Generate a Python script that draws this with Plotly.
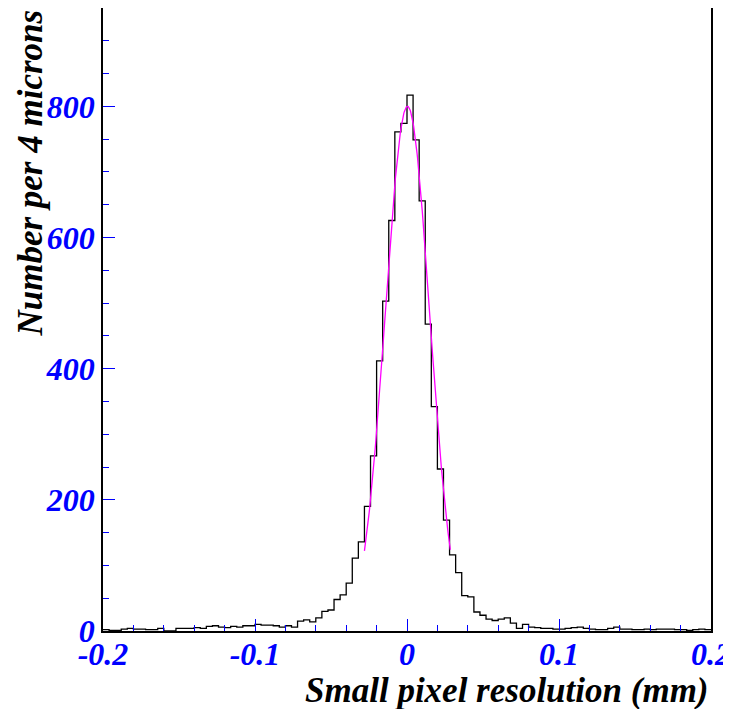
import numpy as np
import plotly.graph_objects as go

# Histogram: 100 bins of 4 microns from -0.2 to 0.2 mm
bin_start = -0.2
bin_width = 0.004
counts = [2, 1, 1, 3, 4, 3, 3, 2, 2, 4,
          0, 0, 4, 4, 4, 5, 4, 7, 8, 6,
          5, 7, 6, 8, 8, 10, 9, 9, 8, 6,
          8, 6, 15, 17, 14, 20, 30, 32, 48, 55,
          73, 111, 136, 190, 267, 412, 503, 626, 761, 774,
          817, 749, 656, 468, 342, 247, 169, 116, 89, 54,
          52, 29, 24, 18, 16, 18, 20, 12, 4, 10,
          6, 5, 4, 4, 3, 3, 4, 5, 6, 4,
          3, 2, 2, 4, 6, 3, 3, 2, 2, 3,
          2, 3, 3, 3, 2, 2, 1, 2, 3, 2]

# Gaussian fit parameters
fit_amp = 800.0
fit_mean = 0.0003
fit_sigma = 0.0146
fit_lo, fit_hi = -0.028, 0.0285

x_ticks = [-0.2, -0.1, 0, 0.1, 0.2]
x_ticklabels = ["-0.2", "-0.1", "0", "0.1", "0.2"]
y_ticks = [0, 200, 400, 600, 800]
y_ticklabels = ["0", "200", "400", "600", "800"]

edges = bin_start + bin_width * np.arange(len(counts) + 1)
step_y = list(counts) + [counts[-1]]

fx = np.linspace(fit_lo, fit_hi, 200)
fy = fit_amp * np.exp(-0.5 * ((fx - fit_mean) / fit_sigma) ** 2)

FONT = "Liberation Serif"

fig = go.Figure()
fig.add_trace(go.Scatter(x=edges, y=step_y, mode="lines", line_shape="hv",
                         line=dict(color="black", width=1.3), hoverinfo="skip"))
fig.add_trace(go.Scatter(x=fx, y=fy, mode="lines",
                         line=dict(color="#ff00ff", width=1.3), hoverinfo="skip"))

tickfont = dict(family=FONT, size=32, color="blue", weight="bold", style="italic")
titlefont = dict(family=FONT, size=35, color="black", weight="bold", style="italic")

# page body has an 8px margin; the figure is offset by it
fig.update_layout(
    width=723, height=701,
    margin=dict(l=95, r=20, t=0, b=78),
    paper_bgcolor="white", plot_bgcolor="white",
    showlegend=False,
    xaxis=dict(range=[-0.2, 0.2], tickvals=x_ticks, ticktext=x_ticklabels,
               ticks="inside", ticklen=12, tickcolor="blue", tickwidth=1,
               minor=dict(dtick=0.02, tick0=-0.2, ticks="inside", ticklen=6,
                          tickcolor="blue", tickwidth=1, showgrid=False),
               showgrid=False, zeroline=False, showline=True, linecolor="black",
               linewidth=1.5, mirror=True, tickfont=tickfont, automargin=False,
               ticklabeloverflow="allow", ticklabelstandoff=-6),
    yaxis=dict(range=[0, 950], tickvals=y_ticks, ticktext=y_ticklabels,
               ticks="inside", ticklen=12, tickcolor="blue", tickwidth=1,
               minor=dict(dtick=50, tick0=0, ticks="inside", ticklen=6,
                          tickcolor="blue", tickwidth=1, showgrid=False),
               showgrid=False, zeroline=False, showline=True, linecolor="black",
               linewidth=1.5, mirror=True, tickfont=tickfont, automargin=False,
               ticklabeloverflow="allow"),
    annotations=[
        dict(text="Small pixel resolution (mm)", xref="paper", yref="paper",
             x=1.0, y=-0.095, xanchor="right", yanchor="middle", showarrow=False,
             font=titlefont),
        dict(text="Number per 4 microns", xref="paper", yref="paper",
             x=-0.12, y=1.0, xanchor="center", yanchor="top", textangle=-90,
             showarrow=False, font=titlefont),
    ],
)

fig.write_html("out.html")
